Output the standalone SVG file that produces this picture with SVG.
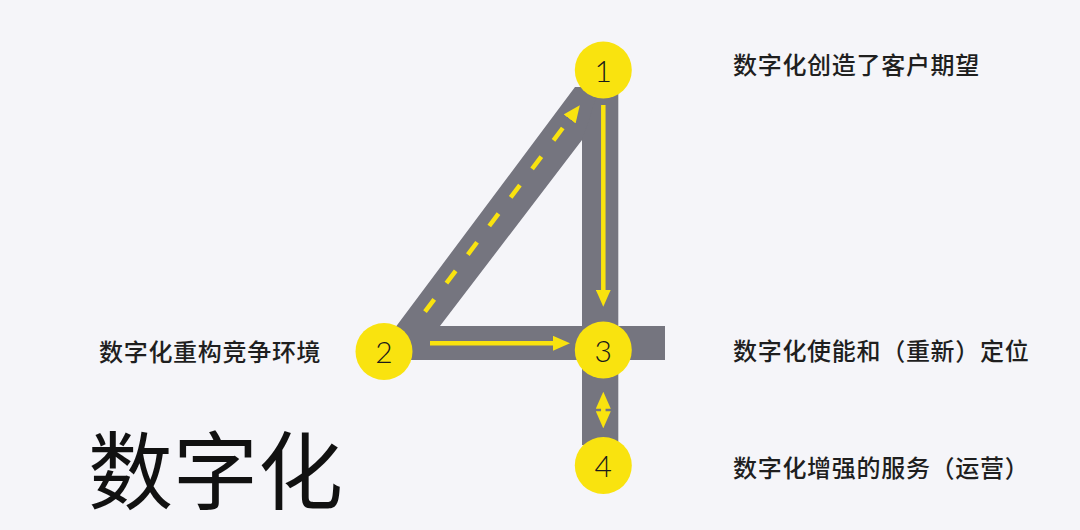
<svg xmlns="http://www.w3.org/2000/svg" width="1080" height="530" viewBox="0 0 1080 530">
  <style>
    .road { fill: #75757f; }
    .node { fill: #f9e30f; }
    .num { font-family: Lato, "DejaVu Sans", "Noto Sans", sans-serif; font-weight: 300; font-size: 30px; fill: #1a1a1a; text-anchor: middle; }
    .label { font-family: "Noto Sans CJK SC", "Noto Sans", sans-serif; font-weight: 500; font-size: 24px; letter-spacing: 0.7px; fill: #1f1f1f; }
    .title { font-family: "Noto Sans CJK SC", "Noto Sans", sans-serif; font-size: 85px; fill: #111111; }
    .flow { fill: none; stroke: #f9e30f; stroke-width: 4.5; }
    .dash { stroke-dasharray: 15.4 20.3; }
  </style>
  <defs>
    <marker id="head" markerUnits="userSpaceOnUse" markerWidth="17" markerHeight="15" refX="2" refY="7.5" orient="auto-start-reverse" viewBox="0 0 17 15">
      <path d="M0,0 L17,7.5 L0,15 Z" fill="#f9e30f"/>
    </marker>
  </defs>
  <rect width="1080" height="530" fill="#f5f5f9"/>

  <g id="road">
    <rect class="road" x="582" y="86" width="36.3" height="359"/>
    <rect class="road" x="383" y="326" width="282" height="34"/>
    <polygon class="road" points="377,352 575,87 600,87 582,140 440,326 440,360 377,360"/>
  </g>

  <g id="connectors">
    <path class="flow" d="M603.3,105 L603.3,291.7" marker-end="url(#head)"/>
    <path class="flow" d="M430,343.3 L555,343.3" marker-end="url(#head)"/>
    <path class="flow dash" d="M425,311.7 L570.8,117.3" marker-end="url(#head)"/>
    <path class="flow" d="M603.3,406.7 L603.3,413.3" marker-start="url(#head)" marker-end="url(#head)"/>
  </g>

  <g id="node1">
    <circle class="node" cx="603.3" cy="70" r="28.5"/>
    <text class="num" x="603.3" y="81.5">1</text>
    <text class="label" x="733" y="73.5">数字化创造了客户期望</text>
  </g>
  <g id="node2">
    <circle class="node" cx="384" cy="351.5" r="28.5"/>
    <text class="num" x="384" y="363">2</text>
    <text class="label" x="99" y="360.5">数字化重构竞争环境</text>
  </g>
  <g id="node3">
    <circle class="node" cx="603.3" cy="350" r="28.5"/>
    <text class="num" x="603.3" y="361.5">3</text>
    <text class="label" x="733" y="360">数字化使能和（重新）定位</text>
  </g>
  <g id="node4">
    <circle class="node" cx="603.3" cy="465.5" r="28.5"/>
    <text class="num" x="603.3" y="477">4</text>
    <text class="label" x="733" y="476.5">数字化增强的服务（运营）</text>
  </g>

  <text id="title" class="title" x="88" y="503">数字化</text>
</svg>
